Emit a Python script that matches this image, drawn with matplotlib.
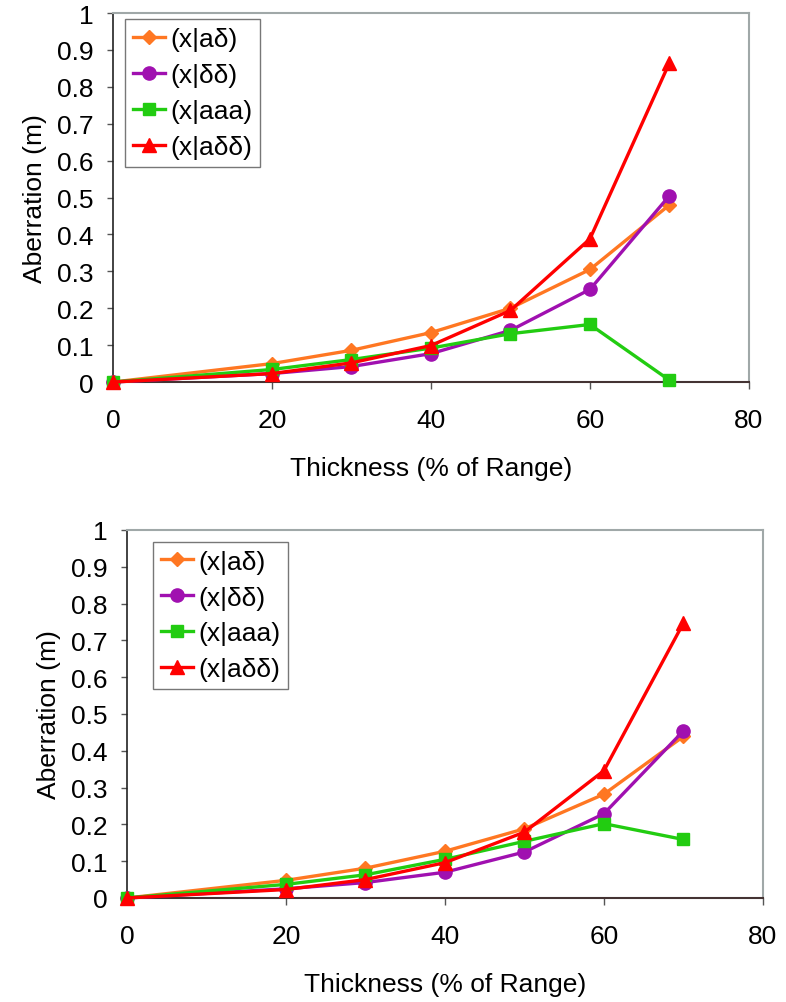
import matplotlib
matplotlib.use("Agg")
import matplotlib.pyplot as plt

plt.rcParams['font.family'] = ['Liberation Sans', 'DejaVu Sans']

thickness = [0, 20, 30, 40, 50, 60, 70]
series_names = ["(x|aδ)", "(x|δδ)", "(x|aaa)", "(x|aδδ)"]

# Top chart
top_a_d = [0, 0.050, 0.086, 0.134, 0.200, 0.305, 0.480]
top_d_d = [0, 0.023, 0.042, 0.077, 0.140, 0.251, 0.505]
top_aaa = [0, 0.034, 0.061, 0.092, 0.131, 0.156, 0.005]
top_a_dd = [0, 0.023, 0.052, 0.099, 0.194, 0.388, 0.865]

# Bottom chart
bot_a_d = [0, 0.048, 0.081, 0.127, 0.188, 0.282, 0.439]
bot_d_d = [0, 0.025, 0.042, 0.070, 0.125, 0.229, 0.454]
bot_aaa = [0, 0.037, 0.063, 0.105, 0.154, 0.202, 0.159]
bot_a_dd = [0, 0.023, 0.050, 0.096, 0.179, 0.346, 0.747]

x_ticks = [0, 20, 40, 60, 80]
y_ticks = [0, 0.1, 0.2, 0.3, 0.4, 0.5, 0.6, 0.7, 0.8, 0.9, 1.0]
y_tick_labels = ["0", "0.1", "0.2", "0.3", "0.4", "0.5", "0.6", "0.7", "0.8", "0.9", "1"]

colors = ['#FF7722', '#A010B0', '#22CC11', '#FF0000']
markers = ['D', 'o', 's', '^']
msizes = [7, 9.5, 8.5, 9.5]

FS = 19

fig = plt.figure(figsize=(7.86, 10.03), dpi=100)
ax_top = fig.add_axes([0.1438, 0.6181, 0.809, 0.3679])
ax_bot = fig.add_axes([0.1616, 0.1037, 0.809, 0.3669])

def draw(ax, data, legend_anchor):
    for vals, name, c, m, ms in zip(data, series_names, colors, markers, msizes):
        ax.plot(thickness, vals, color=c, marker=m, markersize=ms, lw=2.4,
                label=name, clip_on=False, zorder=3)
    ax.set_xlim(0, 80)
    ax.set_ylim(0, 1)
    ax.set_xticks(x_ticks)
    ax.set_xticklabels([str(t) for t in x_ticks])
    ax.set_yticks(y_ticks)
    ax.set_yticklabels(y_tick_labels)
    ax.tick_params(axis='y', direction='out', length=4, width=1, pad=10,
                   labelsize=FS, color='#555555')
    ax.tick_params(axis='x', direction='out', length=5, width=1, pad=14,
                   labelsize=FS, color='#555555')
    ax.spines['left'].set_color('#222222')
    ax.spines['bottom'].set_color('#443333')
    ax.spines['left'].set_linewidth(1.2)
    ax.spines['bottom'].set_linewidth(1.5)
    for s in ['top', 'right']:
        ax.spines[s].set_color('#A0A8A8')
        ax.spines[s].set_linewidth(1.5)
    ax.set_xlabel("Thickness (% of Range)", fontsize=FS, labelpad=17)
    ax.set_ylabel("Aberration (m)", fontsize=FS, labelpad=7)
    leg = ax.legend(loc='upper left', bbox_to_anchor=legend_anchor, fontsize=FS,
                    frameon=True, fancybox=False, edgecolor='#555555',
                    handlelength=1.2, handletextpad=0.2, labelspacing=0.45,
                    borderpad=0.3, borderaxespad=0)
    leg.get_frame().set_linewidth(1.0)

draw(ax_top, [top_a_d, top_d_d, top_aaa, top_a_dd], (0.019, 0.983))
draw(ax_bot, [bot_a_d, bot_d_d, bot_aaa, bot_a_dd], (0.041, 0.968))

fig.savefig("out.png", dpi=100)
